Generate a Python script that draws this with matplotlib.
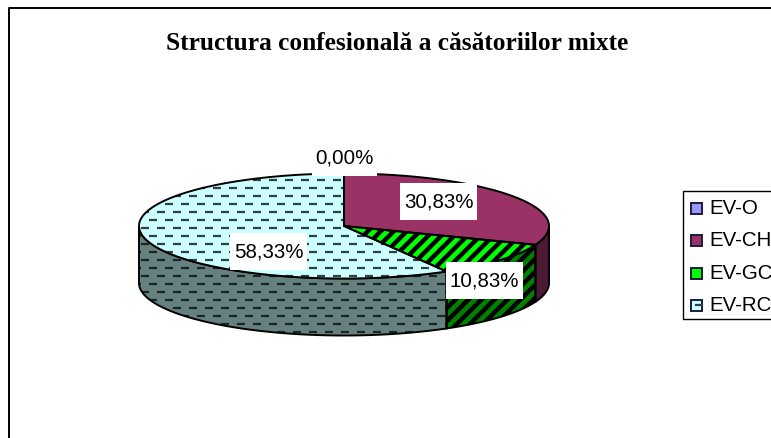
import numpy as np
import matplotlib
matplotlib.use("Agg")
import matplotlib.pyplot as plt
from matplotlib.patches import Polygon, Rectangle

categories = ["EV-O", "EV-CH", "EV-GC", "EV-RC"]
shares = [0.00, 30.83, 10.83, 58.33]
value_labels = ["0,00%", "30,83%", "10,83%", "58,33%"]
title = "Structura confesională a căsătoriilor mixte"

top_colors = ["#9999FF", "#993366", "#00FF00", "#CCFFFF"]
side_colors = ["#4D4D80", "#4D1A33", "#008000", "#668080"]

# pie geometry in image pixels
cx, cy = 344, 227
rx, ry = 205, 52.5
depth = 57


def rim(t):
    return cx + rx * np.sin(t), cy - ry * np.cos(t)


def add_dashes(ax, patch, color):
    # staggered short dashes, clipped to the patch
    for i, y in enumerate(np.arange(181, 345, 8.0)):
        for x in np.arange(124.5 + (i % 2) * 8, 560, 16):
            line, = ax.plot([x, x + 8.5], [y, y], color=color, lw=1.6, solid_capstyle="butt", zorder=patch.get_zorder())
            line.set_clip_path(patch)


def add_stripes(ax, patch):
    for x in np.arange(400, 700, 13):
        line, = ax.plot([x, x - 160], [200, 360], color="black", lw=3.2, solid_capstyle="butt", zorder=patch.get_zorder())
        line.set_clip_path(patch)


fig = plt.figure(figsize=(7.71, 4.39), dpi=100)
ax = fig.add_axes([0, 0, 1, 1])
ax.set_xlim(0, 771)
ax.set_ylim(439, 0)
ax.axis("off")

# chart frame, runs off the right and bottom of the picture
ax.plot([8.5, 8.5, 771], [439, 9, 9], color="black", lw=1.4)

angles = np.cumsum([0] + shares) / sum(shares) * 2 * np.pi

# side wall: only the front half of the rim shows
for i, name in enumerate(categories):
    a0 = max(angles[i], np.pi / 2)
    a1 = min(angles[i + 1], 3 * np.pi / 2)
    if a1 <= a0:
        continue
    t = np.linspace(a0, a1, 120)
    x, y = rim(t)
    pts = np.r_[np.c_[x, y], np.c_[x[::-1], y[::-1] + depth]]
    p = Polygon(pts, closed=True, fc=side_colors[i], ec="none", zorder=2)
    ax.add_patch(p)
    if name == "EV-GC":
        add_stripes(ax, p)
    if name == "EV-RC":
        add_dashes(ax, p, "#1A2626")
    ax.add_patch(Polygon(pts, closed=True, fc="none", ec="black", lw=1.4, zorder=2.5))

# top face
for i, name in enumerate(categories):
    if shares[i] == 0:
        continue
    t = np.linspace(angles[i], angles[i + 1], 200)
    x, y = rim(t)
    pts = np.r_[[[cx, cy]], np.c_[x, y]]
    p = Polygon(pts, closed=True, fc=top_colors[i], ec="none", zorder=3)
    ax.add_patch(p)
    if name == "EV-GC":
        add_stripes(ax, p)
    if name == "EV-RC":
        add_dashes(ax, p, "#334040")
    ax.add_patch(Polygon(pts, closed=True, fc="none", ec="black", lw=1.4, zorder=3.5))

ax.text(397.5, 43, title, family="Liberation Serif", fontweight="bold", fontsize=18.3, ha="center", va="center", color="black")

# data labels sit in white boxes
label_pos = [(344.5, 158), (438.5, 202), (484.5, 281.5), (268.5, 252.5)]
for text, (lx, ly) in zip(value_labels, label_pos):
    half = 32.5 if text == "0,00%" else 38.5
    ax.add_patch(Rectangle((lx - half, ly - 18.5), 2 * half, 37, fc="white", ec="none", zorder=5))
    ax.text(lx, ly, text, family="Liberation Sans", fontsize=14.8, ha="center", va="center", color="black", zorder=6)

# legend, cut by the right edge too
ax.plot([771, 682.5, 682.5, 771], [192, 192, 320, 320], color="black", lw=1)
legend_y = [209, 241, 274, 306]
for i, name in enumerate(categories):
    key = Rectangle((690.5, legend_y[i] - 5.5), 11, 11, fc=top_colors[i], ec="#1A1A40", lw=1.4, zorder=3)
    ax.add_patch(key)
    if categories[i] == "EV-GC":
        add_stripes(ax, key)
    if categories[i] == "EV-RC":
        ax.plot([696, 702], [legend_y[i], legend_y[i]], color="#334040", lw=1.6, zorder=4)
    ax.text(709.5, legend_y[i], name, family="Liberation Sans", fontsize=14.8, ha="left", va="center", color="black")

fig.savefig("out.png", dpi=100)
